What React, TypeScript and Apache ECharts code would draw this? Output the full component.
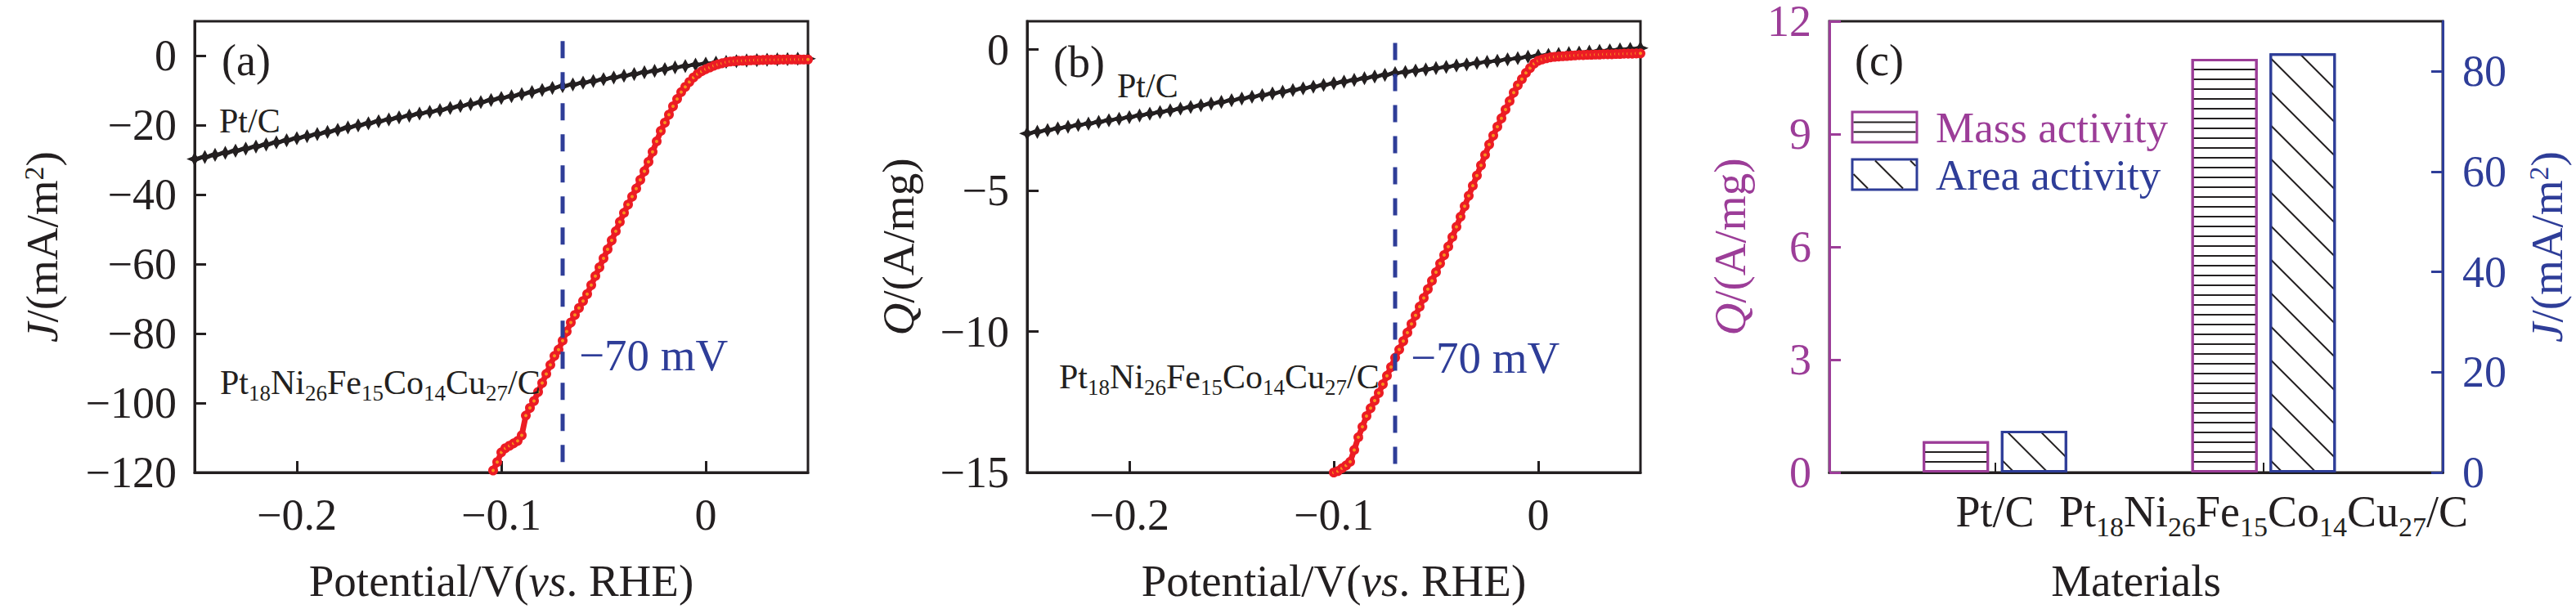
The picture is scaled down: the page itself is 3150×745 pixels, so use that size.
import React, { useEffect, useRef } from 'react';
import * as echarts from 'echarts';

const FONT = 'Liberation Serif';
const BLACK = '#231f20';
const RED = '#ec1c24';
const ORANGE = '#f7941d';
const BLUE = '#2e3d98';
const PURPLE = '#9c3d98';

// ---------- data ----------
const potentialPtC = [-0.25, -0.245, -0.24, -0.235, -0.23, -0.225, -0.22, -0.215, -0.21, -0.205, -0.2, -0.195, -0.19, -0.185, -0.18, -0.175, -0.17, -0.165, -0.16, -0.155, -0.15, -0.145, -0.14, -0.135, -0.13, -0.125, -0.12, -0.115, -0.11, -0.105, -0.1, -0.095, -0.09, -0.085, -0.08, -0.075, -0.07, -0.065, -0.06, -0.055, -0.05, -0.045, -0.04, -0.035, -0.03, -0.025, -0.02, -0.015, -0.01, -0.005, 0, 0.005, 0.01, 0.015, 0.02, 0.025, 0.03, 0.035, 0.04, 0.045, 0.05];
const jPtC = [-29.7, -29.1, -28.5, -27.9, -27.3, -26.7, -26.1, -25.5, -24.9, -24.3, -23.7, -23.1, -22.5, -21.9, -21.3, -20.6, -20.0, -19.4, -18.8, -18.3, -17.7, -17.2, -16.6, -16.1, -15.6, -15.0, -14.4, -13.9, -13.3, -12.7, -12.1, -11.6, -11.0, -10.4, -9.8, -9.2, -8.7, -8.2, -7.7, -7.2, -6.7, -6.2, -5.7, -5.2, -4.7, -4.3, -3.8, -3.3, -2.9, -2.5, -2.2, -1.9, -1.7, -1.5, -1.3, -1.2, -1.1, -1.0, -0.9, -0.8, -0.8];
const qPtC = [-2.98, -2.92, -2.86, -2.8, -2.74, -2.68, -2.63, -2.57, -2.51, -2.46, -2.4, -2.34, -2.28, -2.22, -2.16, -2.1, -2.04, -1.98, -1.92, -1.86, -1.8, -1.74, -1.68, -1.62, -1.56, -1.5, -1.44, -1.38, -1.32, -1.26, -1.2, -1.14, -1.08, -1.02, -0.96, -0.9, -0.84, -0.8, -0.75, -0.71, -0.66, -0.62, -0.57, -0.53, -0.48, -0.44, -0.4, -0.35, -0.31, -0.26, -0.22, -0.19, -0.16, -0.13, -0.11, -0.08, -0.05, -0.03, 0.0, 0.02, 0.05];

const potentialAlloyA = [-0.104, -0.102, -0.1, -0.098, -0.096, -0.094, -0.092, -0.09, -0.088, -0.086, -0.084, -0.082, -0.08, -0.078, -0.076, -0.074, -0.072, -0.07, -0.068, -0.066, -0.064, -0.062, -0.06, -0.058, -0.056, -0.054, -0.052, -0.05, -0.048, -0.046, -0.044, -0.042, -0.04, -0.038, -0.036, -0.034, -0.032, -0.03, -0.028, -0.026, -0.024, -0.022, -0.02, -0.018, -0.016, -0.014, -0.012, -0.01, -0.008, -0.006, -0.004, -0.002, 0, 0.002, 0.004, 0.006, 0.008, 0.01, 0.012, 0.014, 0.016, 0.018, 0.02, 0.022, 0.024, 0.026, 0.028, 0.03, 0.032, 0.034, 0.036, 0.038, 0.04, 0.042, 0.044, 0.046, 0.048, 0.05];
const jAlloy = [-119.4, -117.0, -114.2, -113.0, -112.3, -111.6, -110.9, -109.3, -103.6, -101.4, -99.4, -96.8, -94.2, -91.6, -89.0, -86.4, -84.6, -82.0, -79.4, -76.8, -74.6, -72.6, -70.6, -68.6, -66.0, -63.4, -60.9, -58.3, -55.7, -53.1, -50.5, -47.8, -45.2, -42.8, -40.5, -38.2, -35.7, -33.2, -30.5, -27.6, -24.6, -21.6, -19.2, -16.9, -14.5, -12.4, -10.4, -8.9, -7.5, -6.2, -5.2, -4.4, -3.8, -3.3, -2.8, -2.4, -2.1, -1.8, -1.6, -1.5, -1.4, -1.35, -1.3, -1.25, -1.2, -1.2, -1.15, -1.1, -1.1, -1.1, -1.05, -1.05, -1.0, -1.0, -1.0, -1.0, -1.0, -1.0];

const potentialAlloyB = [-0.1, -0.098, -0.096, -0.094, -0.092, -0.09, -0.088, -0.086, -0.084, -0.082, -0.08, -0.078, -0.076, -0.074, -0.072, -0.07, -0.068, -0.066, -0.064, -0.062, -0.06, -0.058, -0.056, -0.054, -0.052, -0.05, -0.048, -0.046, -0.044, -0.042, -0.04, -0.038, -0.036, -0.034, -0.032, -0.03, -0.028, -0.026, -0.024, -0.022, -0.02, -0.018, -0.016, -0.014, -0.012, -0.01, -0.008, -0.006, -0.004, -0.002, 0, 0.002, 0.004, 0.006, 0.008, 0.01, 0.012, 0.014, 0.016, 0.018, 0.02, 0.022, 0.024, 0.026, 0.028, 0.03, 0.032, 0.034, 0.036, 0.038, 0.04, 0.042, 0.044, 0.046, 0.048, 0.05];
const qAlloy = [-15.0, -14.95, -14.85, -14.75, -14.62, -14.2, -13.75, -13.38, -13.0, -12.72, -12.45, -12.18, -11.87, -11.57, -11.26, -10.93, -10.64, -10.34, -10.04, -9.73, -9.43, -9.12, -8.81, -8.5, -8.2, -7.9, -7.59, -7.29, -6.99, -6.65, -6.29, -5.93, -5.56, -5.19, -4.83, -4.47, -4.11, -3.74, -3.37, -3.05, -2.74, -2.44, -2.13, -1.83, -1.53, -1.27, -1.05, -0.83, -0.66, -0.5, -0.4, -0.35, -0.31, -0.28, -0.26, -0.25, -0.24, -0.23, -0.22, -0.21, -0.2, -0.2, -0.19, -0.19, -0.18, -0.18, -0.17, -0.17, -0.17, -0.16, -0.16, -0.15, -0.15, -0.15, -0.14, -0.14];

const markerPotential = -0.07;
const markerRangeJ = [4.3, -117];
const markerRangeQ = [0.23, -14.75];

const materialPositions = [1, 2];
const materialLabels = ['Pt/C', 'Pt18Ni26Fe15Co14Cu27/C'];
const massActivity = [0.83, 11.0];
const areaActivity = [8.3, 83.6];

const xTicks = [-0.2, -0.1, 0];
const jTicks = [-120, -100, -80, -60, -40, -20, 0];
const qTicks = [-15, -10, -5, 0];
const massTicks = [0, 3, 6, 9, 12];
const areaTicks = [0, 20, 40, 60, 80];

// ---------- helpers ----------
const minus = (v: number) => (v < 0 ? '\u2212' + String(Math.abs(v)) : String(v));
const zip = (xs: number[], ys: number[]) => xs.map((x, i) => [x, ys[i]]);

const nameRich = (color: string) => ({
  n: { fontSize: 55, fontFamily: FONT, color, lineHeight: 55, verticalAlign: 'top' },
  i: { fontSize: 55, fontFamily: FONT, color, lineHeight: 55, verticalAlign: 'top', fontStyle: 'italic' },
  s: { fontSize: 34, fontFamily: FONT, color, lineHeight: 34, verticalAlign: 'top' },
});

const alloyRich = (m: number, s: number, pad: number, color: string, key: 'fill' | 'color') => ({
  m: { fontSize: m, fontFamily: FONT, [key]: color, lineHeight: m, verticalAlign: 'top' },
  s: { fontSize: s, fontFamily: FONT, [key]: color, lineHeight: s, verticalAlign: 'top', padding: [pad, 0, 0, 0] },
});
const alloyText = '{m|Pt}{s|18}{m|Ni}{s|26}{m|Fe}{s|15}{m|Co}{s|14}{m|Cu}{s|27}{m|/C}';

const potentialX = (gridIndex: number) => ({
  type: 'value',
  gridIndex,
  min: -0.25,
  max: 0.05,
  axisLine: { show: true, onZero: false, lineStyle: { color: BLACK, width: 3 } },
  axisTick: { show: true, inside: true, length: 14, lineStyle: { color: BLACK, width: 3 }, customValues: xTicks },
  axisLabel: { show: true, customValues: xTicks, formatter: minus, color: BLACK, fontSize: 54, fontFamily: FONT, margin: 25 },
  splitLine: { show: false },
  name: '{n|Potential/V(}{i|vs}{n|. RHE)}',
  nameLocation: 'middle',
  nameGap: 105,
  nameTextStyle: { fontSize: 55, fontFamily: FONT, color: BLACK, rich: nameRich(BLACK) },
});

const valueY = (gridIndex: number, min: number, max: number, ticks: number[], name: string, nameGap: number, color: string, position: 'left' | 'right' = 'left', margin = 22) => ({
  type: 'value',
  gridIndex,
  position,
  min,
  max,
  axisLine: { show: true, onZero: false, lineStyle: { color, width: 3 } },
  axisTick: { show: true, inside: true, length: 14, lineStyle: { color, width: 3 }, customValues: ticks },
  axisLabel: { show: true, customValues: ticks, formatter: minus, color, fontSize: 54, fontFamily: FONT, margin },
  splitLine: { show: false },
  name,
  nameLocation: 'middle',
  nameRotate: 90,
  nameGap,
  nameTextStyle: { fontSize: 55, fontFamily: FONT, color, rich: nameRich(color) },
});

const gridBox = (left: number) => ({
  left,
  top: 26,
  width: 750,
  height: 552,
  show: true,
  borderColor: BLACK,
  borderWidth: 3,
  backgroundColor: 'transparent',
  containLabel: false,
  outerBoundsMode: 'none',
});

const STAR = 'path://M0,-10L3.2,-3.2L10,0L3.2,3.2L0,10L-3.2,3.2L-10,0L-3.2,-3.2Z';

const ptcSeries = (xi: number, data: number[][]) => ({
  type: 'line',
  xAxisIndex: xi,
  yAxisIndex: xi,
  data,
  symbol: STAR,
  symbolSize: [16, 14],
  showSymbol: true,
  lineStyle: { color: BLACK, width: 4 },
  itemStyle: { color: BLACK, borderColor: BLACK, borderWidth: 1.5 },
  z: 2,
  silent: true,
});

const alloySeries = (xi: number, data: number[][]) => ({
  type: 'line',
  xAxisIndex: xi,
  yAxisIndex: xi,
  data,
  symbol: 'circle',
  symbolSize: 8,
  showSymbol: true,
  lineStyle: { color: RED, width: 7 },
  itemStyle: { color: ORANGE, borderColor: RED, borderWidth: 4 },
  z: 3,
  silent: true,
});

const dashSeries = (xi: number, range: number[]) => ({
  type: 'line',
  xAxisIndex: xi,
  yAxisIndex: xi,
  data: range.map((y) => [markerPotential, y]),
  symbol: 'none',
  lineStyle: { color: BLUE, width: 5, type: [21, 17] },
  z: 4,
  silent: true,
});

const hatchH = { symbol: 'rect', symbolSize: 1, color: BLACK, dashArrayX: [1, 0], dashArrayY: [2, 10], rotation: 0 };
const hatchD = { symbol: 'rect', symbolSize: 1, color: BLACK, dashArrayX: [1, 0], dashArrayY: [2, 27], rotation: Math.PI / 4 };

const txt = (x: number, y: number, text: string, fontSize: number, fill: string, extra: any = {}) => ({
  type: 'text',
  x,
  y,
  silent: true,
  z: 10,
  style: { text, fontSize, fontFamily: FONT, fill, align: 'left', verticalAlign: 'middle', ...extra },
});

const option: any = {
  animation: false,
  backgroundColor: '#ffffff',
  textStyle: { fontFamily: FONT },
  grid: [gridBox(238), gridBox(1256), gridBox(2237)],
  xAxis: [
    potentialX(0),
    potentialX(1),
    {
      type: 'value',
      gridIndex: 2,
      min: 0.3836,
      max: 2.6667,
      axisLine: { show: true, onZero: false, lineStyle: { color: BLACK, width: 3 } },
      axisTick: { show: true, inside: true, length: 12, lineStyle: { color: BLACK, width: 2 }, customValues: materialPositions },
      axisLabel: {
        show: true,
        customValues: materialPositions,
        margin: 21,
        formatter: (v: number) => (materialLabels[materialPositions.indexOf(v)] === 'Pt/C' ? '{m|Pt/C}' : alloyText),
        rich: alloyRich(54, 34, 28, BLACK, 'color'),
      },
      splitLine: { show: false },
      name: 'Materials',
      nameLocation: 'middle',
      nameGap: 105,
      nameTextStyle: { fontSize: 55, fontFamily: FONT, color: BLACK },
    },
  ],
  yAxis: [
    valueY(0, -120, 10, jTicks, '{i|J}{n|/(mA/m}{s|2}{n|)}', 159, BLACK),
    valueY(1, -15, 1, qTicks, '{i|Q}{n|/(A/mg)}', 130, BLACK),
    valueY(2, 0, 12, massTicks, '{i|Q}{n|/(A/mg)}', 94, PURPLE),
    valueY(2, 0, 90, areaTicks, '{i|J}{n|/(mA/m}{s|2}{n|)}', 100, BLUE, 'right', 24),
  ],
  series: [
    ptcSeries(0, zip(potentialPtC, jPtC)),
    alloySeries(0, zip(potentialAlloyA, jAlloy)),
    dashSeries(0, markerRangeJ),
    ptcSeries(1, zip(potentialPtC, qPtC)),
    alloySeries(1, zip(potentialAlloyB, qAlloy)),
    dashSeries(1, markerRangeQ),
    {
      type: 'bar',
      name: 'Mass activity',
      xAxisIndex: 2,
      yAxisIndex: 2,
      data: zip(materialPositions, massActivity),
      barWidth: 81,
      barGap: '18%',
      itemStyle: { color: '#ffffff', borderColor: PURPLE, borderWidth: 3, decal: hatchH },
      silent: true,
    },
    {
      type: 'bar',
      name: 'Area activity',
      xAxisIndex: 2,
      yAxisIndex: 3,
      data: zip(materialPositions, areaActivity),
      barWidth: 81,
      barGap: '18%',
      itemStyle: { color: '#ffffff', borderColor: BLUE, borderWidth: 3, decal: hatchD },
      silent: true,
    },
  ],
  graphic: [
    txt(271, 74, '(a)', 54, BLACK),
    txt(268, 148, 'Pt/C', 42, BLACK),
    { type: 'text', x: 269, y: 447, silent: true, z: 10, style: { text: alloyText, align: 'left', verticalAlign: 'top', fontFamily: FONT, rich: alloyRich(42, 27, 20, BLACK, 'fill') } },
    txt(708, 434, '\u221270 mV', 55, BLUE),
    txt(1288, 76, '(b)', 54, BLACK),
    txt(1366, 105, 'Pt/C', 42, BLACK),
    { type: 'text', x: 1295, y: 440, silent: true, z: 10, style: { text: alloyText, align: 'left', verticalAlign: 'top', fontFamily: FONT, rich: alloyRich(42, 27, 20, BLACK, 'fill') } },
    txt(1725, 437, '\u221270 mV', 55, BLUE),
    txt(2268, 74, '(c)', 54, BLACK),
    // legend
    { type: 'rect', silent: true, z: 10, shape: { x: 2265, y: 137, width: 79, height: 37 }, style: { fill: '#ffffff', stroke: PURPLE, lineWidth: 3 } },
    { type: 'line', silent: true, z: 11, shape: { x1: 2266.5, y1: 149.5, x2: 2342.5, y2: 149.5 }, style: { stroke: BLACK, lineWidth: 2 } },
    { type: 'line', silent: true, z: 11, shape: { x1: 2266.5, y1: 161.5, x2: 2342.5, y2: 161.5 }, style: { stroke: BLACK, lineWidth: 2 } },
    txt(2367, 156, 'Mass activity', 53, PURPLE),
    { type: 'rect', silent: true, z: 10, shape: { x: 2265, y: 195, width: 79, height: 37 }, style: { fill: '#ffffff', stroke: BLUE, lineWidth: 3 } },
    { type: 'line', silent: true, z: 11, shape: { x1: 2266.5, y1: 213, x2: 2284, y2: 230.5 }, style: { stroke: BLACK, lineWidth: 2 } },
    { type: 'line', silent: true, z: 11, shape: { x1: 2293, y1: 196.5, x2: 2327, y2: 230.5 }, style: { stroke: BLACK, lineWidth: 2 } },
    { type: 'line', silent: true, z: 11, shape: { x1: 2336, y1: 196.5, x2: 2342.5, y2: 203 }, style: { stroke: BLACK, lineWidth: 2 } },
    txt(2367, 214, 'Area activity', 53, BLUE),
  ],
};

export default function App() {
  const ref = useRef<HTMLDivElement>(null);
  useEffect(() => {
    if (!ref.current) return;
    const chart = echarts.init(ref.current, null, { renderer: 'svg', width: 3150, height: 745 });
    chart.setOption(option);
    return () => chart.dispose();
  }, []);
  return (
    <div
      ref={ref}
      style={{ position: 'absolute', left: 0, top: 0, width: 3150, height: 745, background: '#ffffff' }}
    />
  );
}
